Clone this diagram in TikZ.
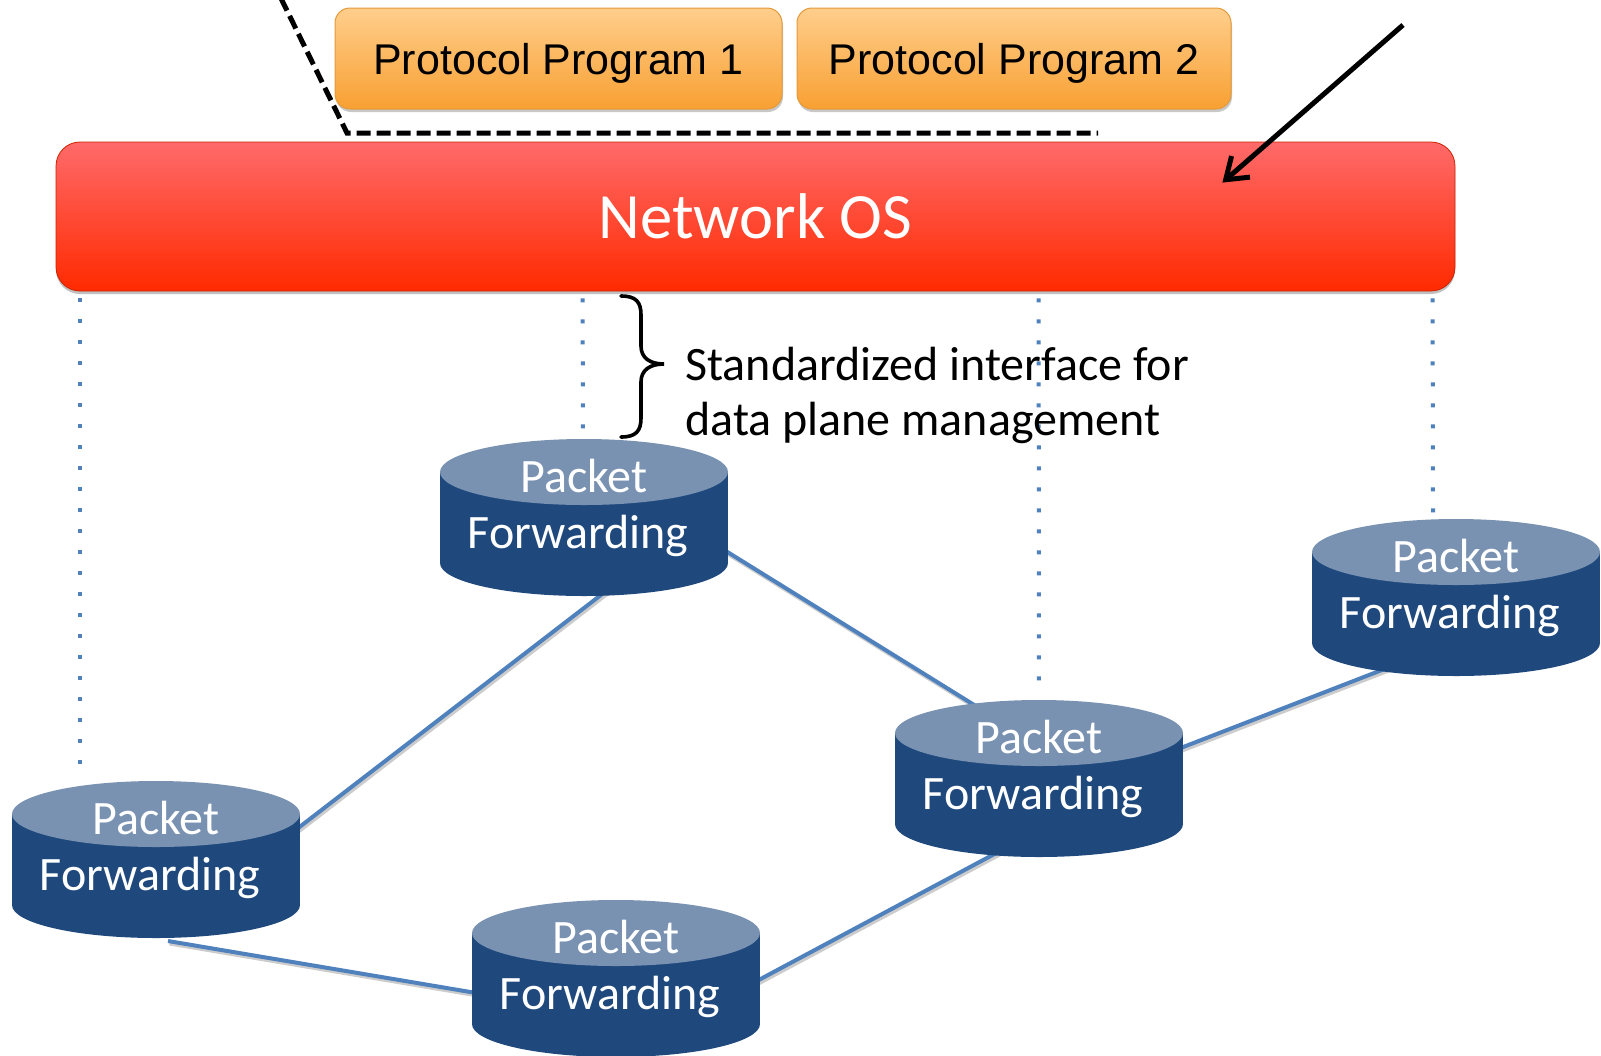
\documentclass[tikz,border=0pt]{standalone}
\usepackage{fontspec}
\setmainfont{Carlito}
\newfontfamily\arialfont{Liberation Sans}
\usetikzlibrary{arrows.meta,shadows,calc}

\definecolor{pfbody}{HTML}{1F497D}
\definecolor{pftop}{HTML}{7A92B2}
\definecolor{linkblue}{HTML}{4F81BD}
\definecolor{osTop}{HTML}{FF6A6A}
\definecolor{osBot}{HTML}{FF2A00}
\definecolor{progTop}{HTML}{FFCE8C}
\definecolor{progBot}{HTML}{F8A032}
\definecolor{progEdge}{HTML}{E39A3B}

\tikzset{
  % Packet forwarding element drawn as a cylinder
  fwdbox/.style={draw=none, minimum width=144pt, minimum height=78.5pt, inner sep=0pt,
    path picture={
      \fill[pfbody] ($(path picture bounding box.center)+(-144,-45.5)$) rectangle
                    ($(path picture bounding box.center)+(144,45.5)$);
      \fill[pfbody] ($(path picture bounding box.center)+(0,45.5)$) ellipse[x radius=72pt, y radius=16.5pt];
      \fill[pftop]  ($(path picture bounding box.center)+(0,-45.5)$) ellipse[x radius=72pt, y radius=16.5pt];
    }},
  fwdtext/.style={text=white, font=\fontsize{24pt}{27pt}\selectfont, anchor=base, inner sep=0pt},
  osbar/.style={rounded corners=12pt, minimum width=699.5pt, minimum height=74.5pt,
    top color=osTop, bottom color=osBot, draw=osBot!80!black, line width=0.4pt,
    text=white, font=\fontsize{32.3pt}{36pt}\selectfont,
    drop shadow={shadow xshift=0pt, shadow yshift=-1.5pt, opacity=0.35, fill=black!70}},
  progbox/.style={rounded corners=7.5pt, minimum height=50.5pt, text depth=0pt,
    top color=progTop, bottom color=progBot, draw=progEdge, line width=0.5pt,
    font=\arialfont\fontsize{21.5pt}{24pt}\selectfont,
    drop shadow={shadow xshift=0.5pt, shadow yshift=-1.5pt, opacity=0.3, fill=black!70}},
  link/.style={preaction={draw=black!20, line width=2pt, transform canvas={xshift=0.75pt, yshift=-1.25pt}},
    draw=linkblue, line width=2pt},
  ctrlline/.style={draw=linkblue, line width=2pt, dash pattern=on 2pt off 8.5pt},
  bracketline/.style={draw=black, line width=2.5pt, dash pattern=on 7pt off 3pt},
  pointer/.style={draw=black, line width=2.5pt, -{Straight Barb[length=10pt,width=14pt]}},
  bracemark/.style={draw=black, line width=1.8pt, line cap=round}
}

\begin{document}
\begin{tikzpicture}[x=0.5pt,y=-0.5pt]
\useasboundingbox (0,0) rectangle (1601,1055);
\clip (0,0) rectangle (1601,1055);
\fill[white] (0,0) rectangle (1601,1055);

% control layer
\node[progbox, minimum width=223.5pt] (p1) at (558.5,58.5) {Protocol Program 1};
\node[progbox, minimum width=217pt]   (p2) at (1014,58.5)  {Protocol Program 2};

% bracket grouping the programs
\coordinate (brkA) at (272,-20);
\coordinate (brkB) at (347,133);
\coordinate (brkC) at (1098,133);
\draw[bracketline] (brkA) -- (brkB) -- (brkC);

\node[osbar] (os) at (755.5,216.5) {Network OS};

% positions of the forwarding elements
\coordinate (c1pos) at (584,517.5);
\coordinate (c2pos) at (1456,597.5);
\coordinate (c3pos) at (1039,778.5);
\coordinate (c4pos) at (156,859.5);
\coordinate (c5pos) at (616,978.5);

% data plane links (drawn first so the cylinders cover their ends)
\draw[link] ($(c1pos)+(116,17.5)$) -- ($(c3pos)+(-39,-57.5)$);
\draw[link] ($(c1pos)+(26,70.5)$)  -- ($(c4pos)+(124,-17.5)$);
\draw[link] ($(c3pos)+(121,-22.5)$) -- ($(c2pos)+(-56,65.5)$);
\draw[link] ($(c3pos)+(-39,72.5)$) -- ($(c5pos)+(124,11.5)$);
\draw[link] ($(c4pos)+(12,81.5)$)  -- ($(c5pos)+(-116,18.5)$);

\node[fwdbox] (c1) at (c1pos) {};
\node[fwdbox] (c2) at (c2pos) {};
\node[fwdbox] (c3) at (c3pos) {};
\node[fwdbox] (c4) at (c4pos) {};
\node[fwdbox] (c5) at (c5pos) {};

\foreach \c in {c1,c2,c3,c4,c5}{
  \node[fwdtext] (\c-a) at ($(\c.north)+(0,54)$) {Packet};
  \node[fwdtext] (\c-b) at ($(\c.north)+(-6,110)$) {Forwarding};
}

% control channels from the Network OS
\draw[ctrlline] ($(os.south west)+(24,7)$) -- ($(c4.north west)+(68,-10)$);
\draw[ctrlline] ($(os.south west)+(527,7)$) -- ($(c1.north)+(-1,-3)$);
\draw[ctrlline] ($(os.south west)+(983,7)$) -- ($(c3.north)+(0,-6)$);
\draw[ctrlline] ($(os.south west)+(1377,7)$) -- ($(c2.north)+(-23,-6)$);

% interface brace and its label
\coordinate (brTop) at (621,296);
\coordinate (brTip) at (664,364);
\coordinate (brBot) at (621,437);
\draw[bracemark] (brTop) .. controls (636,296) and (641,302) .. (641,315)
  -- (641,346) .. controls (641,358) and (650,364) .. (brTip)
  .. controls (650,364) and (641,370) .. (641,382)
  -- (641,418) .. controls (641,431) and (636,437) .. (brBot);
\node[anchor=base west, align=left, inner sep=0pt, font=\fontsize{24pt}{27.5pt}\selectfont]
  (iface) at (685,435) {Standardized interface for\\data plane management};

% pointer onto the Network OS
\coordinate (ptrStart) at (1403,25);
\draw[pointer] (ptrStart) -- ($(os.north east)+(-233,41)$);
\end{tikzpicture}
\end{document}
